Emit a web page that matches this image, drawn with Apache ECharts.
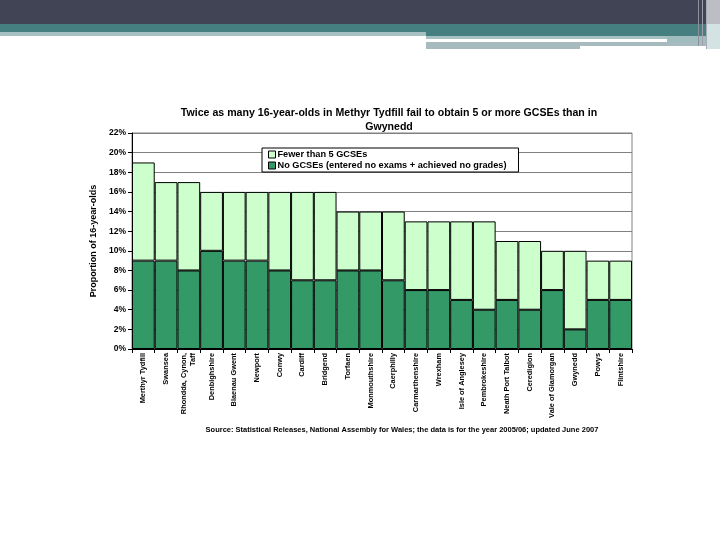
<!DOCTYPE html>
<html>
<head>
<meta charset="utf-8">
<script src="https://cdn.jsdelivr.net/npm/echarts@6/dist/echarts.min.js"></script>
<style>html,body{margin:0;padding:0;background:#fff;}#c{width:720px;height:540px;}</style>
</head>
<body>
<div id="c"></div>
<script>
var categories = ['Merthyr Tydfill','Swansea','Rhondda, Cynon,\nTaff','Denbighshire','Blaenau Gwent','Newport','Conwy','Cardiff','Bridgend','Torfaen','Monmouthshire','Caerphilly','Carmarthenshire','Wrexham','Isle of Anglesey','Pembrokeshire','Neath Port Talbot','Ceredigion','Vale of Glamorgan','Gwynedd','Powys','Flintshire'];
var noGcses = [9,9,8,10,9,9,8,7,7,8,8,7,6,6,5,4,5,4,6,2,5,5];
var fewerThan5 = [10,8,9,6,7,7,8,9,9,6,6,7,7,7,8,9,6,7,4,8,4,4];
var yTicks = [0,2,4,6,8,10,12,14,16,18,20,22];
var seriesNames = ['No GCSEs (entered no exams + achieved no grades)','Fewer than 5 GCSEs'];
var titleText = 'Twice as many 16-year-olds in Methyr Tydfill fail to obtain 5 or more GCSEs than in\nGwynedd';
var sourceText = 'Source: Statistical Releases, National Assembly for Wales; the data is for the year 2005/06; updated June 2007';

var chart = echarts.init(document.getElementById('c'));
var F = 'Liberation Sans, Arial, sans-serif';
chart.setOption({
  backgroundColor: '#fff',
  animation: false,
  title: {
    text: titleText, left: 384, top: 101, textAlign: 'center',
    textStyle: {fontFamily: F, fontSize: 10.6, fontWeight: 'bold', color: '#000', lineHeight: 14}
  },
  graphic: [
    {type:'rect', shape:{x:0,y:0,width:720,height:24}, style:{fill:'#414455'}, silent:true},
    {type:'rect', shape:{x:0,y:24,width:720,height:8}, style:{fill:'#457f80'}, silent:true},
    {type:'rect', shape:{x:0,y:32,width:426,height:4}, style:{fill:'#a7c0c2'}, silent:true},
    {type:'rect', shape:{x:426,y:32,width:280,height:4}, style:{fill:'#457f80'}, silent:true},
    {type:'rect', shape:{x:426,y:36,width:241,height:3}, style:{fill:'#a7c0c2'}, silent:true},
    {type:'rect', shape:{x:667,y:36,width:39,height:9}, style:{fill:'#9fbcbf'}, silent:true},
    {type:'rect', shape:{x:426,y:42,width:154,height:7}, style:{fill:'#a7babd'}, silent:true},
    {type:'rect', shape:{x:580,y:42,width:127,height:4}, style:{fill:'#a7babd'}, silent:true},
    {type:'rect', shape:{x:706,y:0,width:14,height:24}, style:{fill:'#bdbdc6'}, silent:true},
    {type:'rect', shape:{x:706,y:24,width:14,height:25}, style:{fill:'#d3e3e3'}, silent:true},
    {type:'line', shape:{x1:698.5,y1:0,x2:698.5,y2:46}, style:{stroke:'#8d909c',lineWidth:1}, silent:true},
    {type:'line', shape:{x1:702.5,y1:0,x2:702.5,y2:46}, style:{stroke:'#9ea1ab',lineWidth:1}, silent:true},
    {type:'line', shape:{x1:706.5,y1:0,x2:706.5,y2:49}, style:{stroke:'#a9abb4',lineWidth:1}, silent:true},
    {type:'text', x: 402, y: 426, style:{text: sourceText, align:'center', verticalAlign:'top', font:'bold 7.5px ' + F, fill:'#000'}, silent:true}
  ],
  legend: {
    data: [seriesNames[1], seriesNames[0]],
    orient: 'vertical', left: 262, top: 148,
    backgroundColor: '#fff', borderColor: '#000', borderWidth: 1,
    padding: [2, 12, 2, 6], itemGap: 2, itemWidth: 7, itemHeight: 7,
    align: 'left', icon: 'rect',
    textStyle: {fontFamily: F, fontSize: 9.2, fontWeight: 'bold', color: '#000', padding: [0,0,0,-3]},
    itemStyle: {borderColor: '#000', borderWidth: 1}
  },
  grid: {left: 132, right: 88, top: 133, bottom: 191, show: true, borderColor: '#808080', borderWidth: 1, containLabel: false},
  xAxis: {
    type: 'category', data: categories,
    axisLine: {show: true, lineStyle: {color: '#000', width: 1}},
    axisTick: {show: true, interval: 0, length: 4, lineStyle: {color: '#000'}},
    axisLabel: {interval: 0, rotate: 90, margin: 4, fontFamily: F, fontSize: 7.4, fontWeight: 'bold', color: '#000', lineHeight: 9}
  },
  yAxis: {
    type: 'value', min: 0, max: 22, interval: 2,
    name: 'Proportion of 16-year-olds', nameLocation: 'middle', nameGap: 29,
    nameTextStyle: {fontFamily: F, fontSize: 9, fontWeight: 'bold', color: '#000'},
    axisLine: {show: true, lineStyle: {color: '#000', width: 1}},
    axisTick: {show: true, length: 4, lineStyle: {color: '#000'}},
    axisLabel: {formatter: function(v){ return yTicks.indexOf(v) >= 0 ? v + '%' : ''; }, margin: 6, fontFamily: F, fontSize: 8.5, fontWeight: 'bold', color: '#000'},
    splitLine: {show: true, lineStyle: {color: '#808080', width: 1}}
  },
  series: [
    {name: seriesNames[0], type: 'bar', stack: 't', data: noGcses, barCategoryGap: '0%',
     itemStyle: {color: '#339966', borderColor: '#000', borderWidth: 1}},
    {name: seriesNames[1], type: 'bar', stack: 't', data: fewerThan5, barCategoryGap: '0%',
     itemStyle: {color: '#ccffcc', borderColor: '#000', borderWidth: 1}}
  ]
});
</script>
</body>
</html>
